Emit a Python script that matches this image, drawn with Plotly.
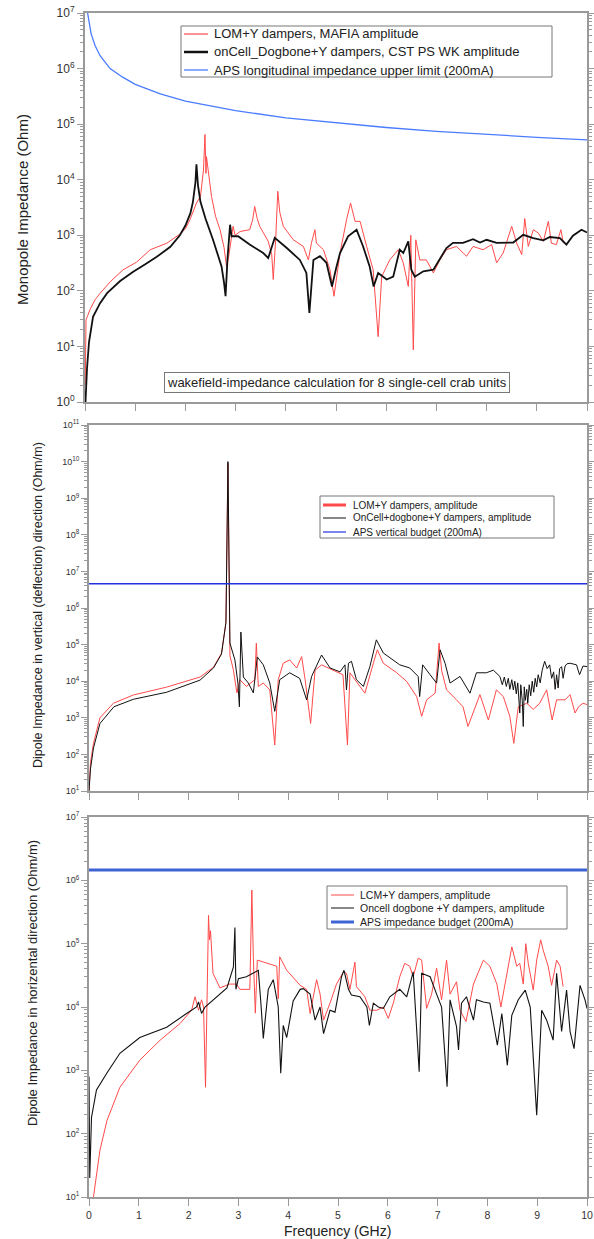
import plotly.graph_objects as go

# ---------------- Top panel: monopole impedance (Ohm) ----------------
top_red_f = [0.005, 0.02, 0.1, 0.2, 0.3, 0.5, 0.76, 1.03, 1.3, 1.63, 1.89, 2.0, 2.09, 2.22, 2.3, 2.36, 2.39,
             2.41, 2.42, 2.46, 2.52, 2.6, 2.69, 2.77, 2.82, 2.86, 2.89, 2.95, 2.99, 3.09, 3.28, 3.34, 3.38,
             3.43, 3.48, 3.65, 3.72, 3.75, 3.8, 3.84, 3.88, 3.95, 4.15, 4.35, 4.45, 4.51, 4.58, 4.61, 4.75,
             4.88, 4.96, 5.02, 5.08, 5.21, 5.29, 5.38, 5.48, 5.61, 5.74, 5.84, 5.91, 6.07, 6.24, 6.34, 6.44,
             6.49, 6.54, 6.59, 6.67, 6.8, 6.94, 7.07, 7.2, 7.4, 7.6, 7.73, 7.93, 8.1, 8.2, 8.33, 8.5, 8.6,
             8.7, 8.76, 8.83, 8.93, 9.03, 9.13, 9.23, 9.29, 9.39, 9.48, 9.53]
top_red_z = [2, 30, 46, 69, 90, 145, 240, 330, 550, 720, 1050, 1300, 1900, 3800, 5000, 1.5e4, 6.5e4,
             1.3e4, 2.6e4, 1.2e4, 5000, 2200, 1260, 600, 275, 400, 630, 1450, 1000, 1170, 1260, 1900, 3300,
             2000, 1450, 780, 450, 160, 900, 6200, 2600, 1450, 830, 630, 360, 720, 1260, 720, 550,
             240, 80, 200, 480, 1900, 3800, 1780, 1780, 630, 240, 15, 180, 360, 550, 320, 120,
             1000, 8.7, 830, 360, 360, 210, 360, 550, 630, 420, 630, 550, 680, 320, 480, 1450, 720,
             450, 2000, 630, 1260, 1100, 780, 1780, 720, 680, 1260, 720]

top_blk_f = [0.01, 0.04, 0.08, 0.16, 0.3, 0.44, 0.7, 0.96, 1.2, 1.43, 1.7, 1.89, 2.0, 2.1, 2.15, 2.2, 2.22,
             2.25, 2.3, 2.4, 2.55, 2.65, 2.72, 2.77, 2.8, 2.84, 2.89, 2.92, 3.05, 3.28, 3.55, 3.65, 3.72,
             3.78, 4.02, 4.28, 4.41, 4.47, 4.55, 4.68, 4.81, 4.92, 5.0, 5.08, 5.24, 5.41, 5.54, 5.67, 5.75,
             5.84, 6.01, 6.14, 6.27, 6.34, 6.44, 6.5, 6.57, 6.74, 6.94, 7.2, 7.33, 7.53, 7.73, 7.87, 8.0,
             8.2, 8.53, 8.73, 8.93, 9.13, 9.26, 9.46, 9.59, 9.72, 9.89, 10.0]
top_blk_z = [1.0, 4, 12, 34, 60, 91, 150, 220, 300, 410, 620, 1000, 1500, 2500, 4000, 9000, 1.9e4,
             8000, 4000, 2000, 830, 450, 275, 140, 80, 400, 1550, 960, 960, 680, 480, 390, 600,
             900, 590, 360, 210, 40, 360, 420, 320, 120, 250, 480, 960, 1260, 630, 275, 120,
             210, 160, 180, 550, 480, 780, 240, 180, 225, 240, 590, 730, 730, 850, 740, 830,
             730, 740, 1020, 890, 810, 930, 890, 680, 980, 1260, 1120]

top_blue_f = [0.052, 0.08, 0.12, 0.2, 0.3, 0.5, 0.75, 1, 1.5, 2, 2.5, 3, 4, 5, 6, 7, 8, 9, 10]
top_blue_z = [1e7, 6.5e6, 4.3e6, 2.6e6, 1.7e6, 1.0e6, 7e5, 5.2e5, 3.5e5, 2.6e5, 2.1e5, 1.75e5,
              1.3e5, 1.05e5, 8.7e4, 7.4e4, 6.5e4, 5.8e4, 5.2e4]

# ---------------- Middle panel: vertical dipole impedance (Ohm/m) ----------------
mid_red_f = [0.0, 0.03, 0.09, 0.22, 0.49, 0.89, 1.56, 2.23, 2.5, 2.66, 2.75, 2.79, 2.83, 2.9, 2.97, 3.03,
             3.16, 3.33, 3.36, 3.4, 3.5, 3.63, 3.73, 3.8, 3.9, 4.03, 4.17, 4.27, 4.34, 4.45, 4.54, 4.67,
             4.9, 5.1, 5.19, 5.24, 5.44, 5.54, 5.71, 5.79, 5.91, 6.18, 6.38, 6.58, 6.68, 6.78, 6.95,
             7.03, 7.08, 7.18, 7.38, 7.51, 7.61, 7.71, 7.85, 8.02, 8.18, 8.32, 8.45, 8.53, 8.62, 8.79,
             8.92, 9.05, 9.19, 9.3, 9.39, 9.56, 9.66, 9.76, 9.83, 9.92, 10.0]
mid_red_z = [10, 60, 200, 1000, 2500, 4200, 6900, 1.3e4, 2.4e4, 5.8e4, 4e5, 9e9, 5e4, 2e4, 4800, 1.1e4,
             7200, 1.1e4, 1.1e5, 7200, 8900, 5800, 180, 1.1e4, 3.1e4, 3.8e4, 2.3e4, 4.7e4, 1.1e4, 700, 2e4, 2.8e4,
             2e4, 1.5e4, 180, 1.7e4, 7200, 4700, 3.1e4, 7.2e4, 3.1e4, 1.7e4, 9800, 3800, 1100, 3100, 4700,
             1.1e5, 2e4, 5800, 3100, 2000, 580, 1350, 4300, 870, 5800, 3800, 1100, 200, 2000, 2500,
             1700, 2500, 5800, 870, 3100, 3100, 4300, 1350, 2000, 2500, 2300]

mid_blk_f = [0.0, 0.03, 0.09, 0.22, 0.5, 0.89, 1.56, 2.23, 2.5, 2.66, 2.75, 2.79, 2.83, 2.93, 2.99, 3.02,
             3.05, 3.1, 3.2, 3.3, 3.38, 3.5, 3.63, 3.73, 3.83, 4.03, 4.23, 4.37, 4.47, 4.67, 4.84, 5.04,
             5.14, 5.17, 5.21, 5.27, 5.37, 5.51, 5.64, 5.77, 5.91, 6.11, 6.24, 6.44, 6.61, 6.64, 6.7,
             6.85, 6.98, 7.05, 7.15, 7.25, 7.45, 7.65, 7.78, 7.98, 8.12, 8.25, 8.3, 8.34, 8.38, 8.42,
             8.45, 8.49, 8.52, 8.55, 8.58, 8.61, 8.65, 8.67, 8.7, 8.72, 8.74, 8.76, 8.79, 8.81, 8.84,
             8.87, 8.9, 8.93, 8.96, 8.99, 9.02, 9.06, 9.1, 9.15, 9.2, 9.25, 9.29, 9.33, 9.36, 9.39,
             9.42, 9.45, 9.49, 9.52, 9.56, 9.6, 9.66, 9.79, 9.85, 9.92, 10.0]
mid_blk_z = [10, 40, 150, 700, 2000, 3200, 5000, 1.07e4, 2.3e4, 5.5e4, 4e5, 1e10, 1.1e5, 3.8e4, 8900, 2000,
             2.2e5, 1.3e4, 8900, 4800, 4.6e4, 2.8e4, 8900, 1500, 1.1e4, 1.7e4, 1.2e4, 3100, 1.35e4, 5.2e4, 2.3e4, 1.8e4,
             2.8e4, 5800, 3.1e4, 3.5e4, 1.1e4, 7200, 2.5e4, 1.35e5, 5.9e4, 3.8e4, 2.8e4, 2.3e4, 1.35e4, 3800, 2.8e4,
             1.5e4, 8900, 7.2e4, 3.1e4, 8900, 1.35e4, 4700, 1.7e4, 1.7e4, 2e4, 1.35e4, 8000, 1.3e4, 7200, 1.2e4,
             6000, 1.1e4, 5800, 1e4, 4500, 9000, 1350, 8000, 3000, 580, 7000, 3000, 6000, 2500, 8000,
             4000, 1e4, 5000, 1.2e4, 7000, 1.5e4, 9000, 2e4, 3.5e4, 2.2e4, 2.8e4, 1.2e4, 1.8e4, 6000, 1.5e4,
             6500, 2.2e4, 2.5e4, 1.2e4, 2.6e4, 3e4, 3.1e4, 2.8e4, 1.5e4, 2.6e4, 2.5e4]

mid_blue_f = [0.0, 10.0]
mid_blue_z = [4.6e6, 4.6e6]

# ---------------- Bottom panel: horizontal dipole impedance (Ohm/m) ----------------
bot_red_f = [0.09, 0.22, 0.36, 0.62, 1.02, 1.43, 1.83, 2.06, 2.13, 2.2, 2.26, 2.3, 2.34, 2.37, 2.4, 2.42,
             2.44, 2.49, 2.63, 2.82, 2.96, 3.03, 3.23, 3.27, 3.3, 3.34, 3.38, 3.77, 3.8, 3.83, 3.97, 4.24,
             4.37, 4.44, 4.54, 4.57, 4.64, 4.71, 4.84, 4.97, 5.11, 5.17, 5.24, 5.34, 5.37, 5.54, 5.64,
             5.78, 5.91, 6.01, 6.11, 6.24, 6.34, 6.44, 6.51, 6.61, 6.68, 6.78, 6.88, 6.98, 7.08, 7.18,
             7.25, 7.38, 7.45, 7.57, 7.72, 7.92, 8.05, 8.19, 8.27, 8.39, 8.49, 8.59, 8.65, 8.72, 8.77,
             8.82, 8.92, 8.99, 9.07, 9.12, 9.22, 9.29, 9.39, 9.46, 9.52]
bot_red_z = [10, 55, 160, 540, 1450, 3000, 5500, 8900, 1.45e4, 8900, 1.3e4, 1e4, 540, 1.45e4, 2.8e5, 1.15e5,
             1.6e5, 3.4e4, 2e4, 2.3e4, 2.3e4, 1.9e4, 1.9e4, 7e5, 6e4, 8000, 5.5e4, 4.4e4, 1.35e4, 6.2e4, 3.8e4, 2.2e4,
             1.9e4, 7900, 1.9e4, 2.7e4, 1.6e4, 6200, 1.15e4, 2.3e4, 3.6e4, 3.4e4, 1.9e4, 5.1e4, 2.1e4, 1.45e4, 8900,
             8900, 1e4, 6600, 1.15e4, 3e4, 4.9e4, 4.4e4, 3e4, 5.9e4, 5.5e4, 9500, 1.6e4, 4.1e4, 1.3e4, 5.5e4,
             1.6e4, 2.5e4, 8900, 5900, 2.3e4, 5.5e4, 4.4e4, 2.3e4, 1e4, 3.4e4, 8.9e4, 4.4e4, 4.9e4, 2.3e4, 1e5,
             4.9e4, 1.85e4, 5.5e4, 1.15e5, 7.9e4, 4.4e4, 2.2e4, 5.5e4, 4.4e4, 2.1e4]

bot_blk_f = [0.0, 0.015, 0.05, 0.15, 0.36, 0.62, 1.02, 1.56, 1.96, 2.16, 2.2, 2.26, 2.33, 2.57, 2.77, 2.9,
             2.93, 2.95, 3.0, 3.16, 3.3, 3.4, 3.45, 3.5, 3.6, 3.7, 3.8, 3.85, 3.9, 3.97, 4.1, 4.24, 4.3, 4.44,
             4.54, 4.64, 4.71, 4.84, 4.94, 5.07, 5.12, 5.21, 5.27, 5.44, 5.58, 5.63, 5.71, 5.81, 5.91,
             6.04, 6.24, 6.38, 6.51, 6.63, 6.68, 6.85, 6.98, 7.08, 7.19, 7.25, 7.38, 7.42, 7.48, 7.58,
             7.72, 7.78, 7.92, 8.05, 8.2, 8.29, 8.4, 8.49, 8.62, 8.76, 8.86, 8.99, 9.09, 9.19, 9.32,
             9.39, 9.49, 9.59, 9.66, 9.74, 9.86, 9.96, 10.0]
bot_blk_z = [800, 20, 180, 490, 910, 1860, 3300, 4800, 7900, 1e4, 1.2e4, 7900, 1e4, 1.45e4, 2e4, 4.3e4,
             1.8e5, 1.9e4, 2.8e4, 3e4, 3.4e4, 3.8e4, 1.2e4, 3200, 1.9e4, 2.7e4, 1e4, 900, 5100, 3300, 1.25e4, 1.9e4,
             1.95e4, 1.6e4, 6200, 1e4, 3800, 8900, 8300, 3e4, 3.8e4, 1.9e4, 1.55e4, 1.45e4, 1e4, 5100, 1.15e4, 1e4, 9500,
             1.45e4, 1.9e4, 1.45e4, 3.6e4, 950, 3.4e4, 3e4, 1.6e4, 1e4, 550, 1.3e4, 4900, 2100, 1.15e4, 1.45e4,
             6200, 1.3e4, 1.2e4, 1.15e4, 2500, 7900, 1200, 7400, 1.3e4, 1.85e4, 1e4, 195, 8900, 6200, 3000,
             3.4e4, 4100, 1.85e4, 4100, 2200, 2.2e4, 1.3e4, 9500]

bot_blue_f = [0.0, 10.0]
bot_blue_z = [1.45e6, 1.45e6]

x_ticks = list(range(0, 11))

# legend texts
top_names = ["LOM+Y dampers, MAFIA amplitude", "onCell_Dogbone+Y dampers, CST PS WK amplitude",
             "APS longitudinal impedance upper limit (200mA)"]
mid_names = ["LOM+Y dampers, amplitude", "OnCell+dogbone+Y dampers, amplitude", "APS vertical budget (200mA)"]
bot_names = ["LCM+Y dampers, amplitude", "Oncell dogbone +Y dampers, amplitude", "APS impedance budget (200mA)"]

FONT = "Liberation Sans, Arial, sans-serif"
RED = "#ff4a4a"
AXC = "#9a9a9a"
W, H = 594, 1239

top_styles = [dict(color=RED, width=1), dict(color="#111111", width=1.8), dict(color="#4a7cff", width=1.3)]
mid_styles = [dict(color=RED, width=1), dict(color="#111111", width=1), dict(color="#2233dd", width=1.3)]
bot_styles = [dict(color=RED, width=1), dict(color="#111111", width=1.1), dict(color="#3f62d4", width=3)]

fig = go.Figure()
panels = [
    ("x", "y", [(top_red_f, top_red_z), (top_blk_f, top_blk_z), (top_blue_f, top_blue_z)], top_names, top_styles),
    ("x2", "y2", [(mid_red_f, mid_red_z), (mid_blk_f, mid_blk_z), (mid_blue_f, mid_blue_z)], mid_names, mid_styles),
    ("x3", "y3", [(bot_red_f, bot_red_z), (bot_blk_f, bot_blk_z), (bot_blue_f, bot_blue_z)], bot_names, bot_styles),
]
for xa, ya, series, names, styles in panels:
    for (fx, zy), nm, st in zip(series, names, styles):
        fig.add_trace(go.Scatter(x=fx, y=zy, mode="lines", name=nm, line=st, xaxis=xa, yaxis=ya,
                                 showlegend=False))


def yax(lo, hi, domain, size, anchor):
    vals = [10 ** k for k in range(lo, hi + 1)]
    txt = ["10<sup>%d</sup>" % k for k in range(lo, hi + 1)]
    minor = [m * 10 ** k for k in range(lo, hi) for m in range(2, 10)]
    return dict(type="log", range=[lo, hi], domain=domain, anchor=anchor, automargin=False,
                tickmode="array", tickvals=vals, ticktext=txt,
                ticks="outside", ticklen=6, tickcolor=AXC, tickwidth=1,
                minor=dict(tickmode="array", tickvals=minor, ticks="outside", ticklen=3, tickcolor=AXC),
                showline=True, linecolor=AXC, linewidth=2, mirror="ticks",
                showgrid=False, zeroline=False,
                tickfont=dict(family=FONT, size=size, color="#333"))


def xax(domain, anchor, labels):
    return dict(range=[0, 10], domain=domain, anchor=anchor, automargin=False, tickmode="array",
                tickvals=x_ticks,
                ticktext=[str(v) for v in x_ticks] if labels else ["" for v in x_ticks],
                ticks="outside", ticklen=7, tickcolor=AXC, tickwidth=1,
                showline=True, linecolor=AXC, linewidth=2, mirror=True,
                showgrid=False, zeroline=False,
                tickfont=dict(family=FONT, size=10.5, color="#333"))


shapes = []
annotations = []


def add_legend(box, x_line, x_text, rows, names, styles, fsize, sample_widths):
    x0, y0, x1, y1 = box
    shapes.append(dict(type="rect", xref="paper", yref="paper", x0=x0 / W, x1=x1 / W,
                       y0=1 - y1 / H, y1=1 - y0 / H, line=dict(color="#777", width=1),
                       fillcolor="white", layer="above"))
    for yy, nm, st, sw in zip(rows, names, styles, sample_widths):
        shapes.append(dict(type="line", xref="paper", yref="paper", x0=x_line[0] / W, x1=x_line[1] / W,
                           y0=1 - yy / H, y1=1 - yy / H, line=dict(color=st["color"], width=sw),
                           layer="above"))
        annotations.append(dict(text=nm, x=x_text / W, y=1 - yy / H, xref="paper", yref="paper",
                                xanchor="left", yanchor="middle", showarrow=False,
                                font=dict(family=FONT, size=fsize, color="#222")))


add_legend((181, 26, 552, 77), (184, 208), 212, [34, 52, 70], top_names, top_styles, 13, [1.2, 2.5, 1.3])
add_legend((320, 496, 554, 538), (323, 346), 351, [505, 518, 532], mid_names, mid_styles, 10, [3, 1, 1.2])
add_legend((327, 886, 567, 929), (331, 354), 358, [895, 908, 922], bot_names, bot_styles, 10.5, [1, 1, 3])


def centered(text, xpx, ypx, size, angle=0, **extra):
    d = dict(text=text, x=xpx / W, y=1 - ypx / H, xref="paper", yref="paper", xanchor="center",
             yanchor="middle", showarrow=False, textangle=angle,
             font=dict(family=FONT, size=size, color="#222"))
    d.update(extra)
    return d


annotations += [
    centered("wakefield-impedance calculation for 8 single-cell crab units", 337, 382, 13,
             bordercolor="#777", borderwidth=1, bgcolor="white", borderpad=2),
    centered("Monopole Impedance (Ohm)", 22, 210, 15, -90),
    centered("Dipole Impedance in vertical (deflection) direction (Ohm/m)", 38, 605, 12.5, -90),
    centered("Dipole Impedance in horizental direction (Ohm/m)", 33, 983, 13, -90),
    centered("Frequency (GHz)", 337, 1231, 14),
]

fig.update_layout(
    width=W, height=H, margin=dict(l=0, r=0, t=0, b=0),
    paper_bgcolor="white", plot_bgcolor="white", showlegend=False,
    font=dict(family=FONT, color="#222"),
    xaxis=xax([85 / W, 587 / W], "y", False),
    yaxis=yax(0, 7, [1 - 402 / H, 1 - 13 / H], 12, "x"),
    xaxis2=xax([89 / W, 587 / W], "y2", False),
    yaxis2=yax(1, 11, [1 - 791 / H, 1 - 425 / H], 9, "x2"),
    xaxis3=xax([89 / W, 587 / W], "y3", True),
    yaxis3=yax(1, 7, [1 - 1197 / H, 1 - 817 / H], 9, "x3"),
    shapes=shapes,
    annotations=annotations,
)

fig.write_html("out.html", config={"displayModeBar": False},
               post_script="document.body.style.margin='0';document.body.style.padding='0';"
                           "document.body.style.overflow='hidden';")
